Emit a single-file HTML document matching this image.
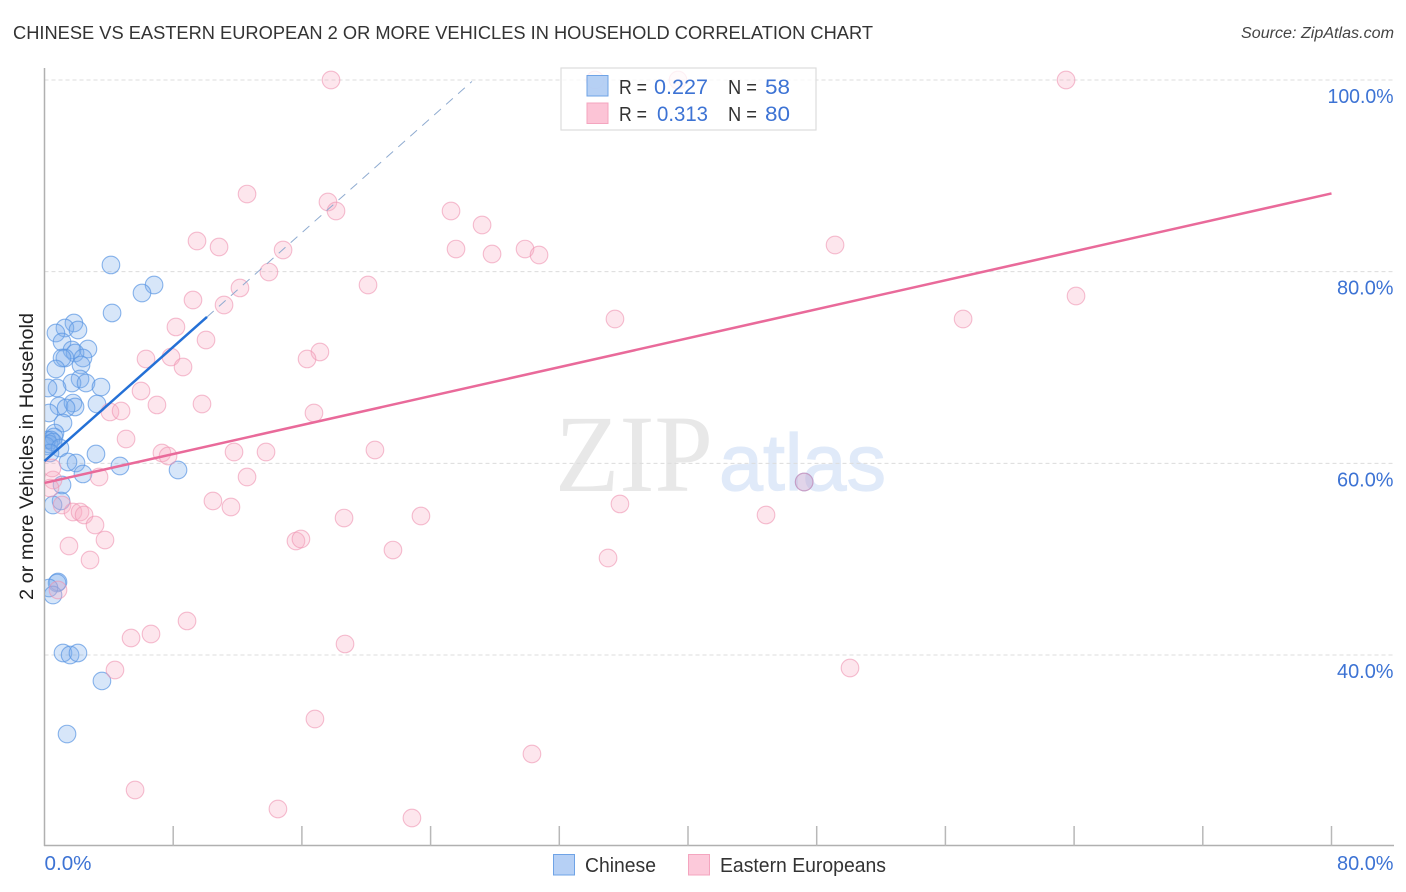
<!DOCTYPE html>
<html lang="en">
<head>
<meta charset="utf-8">
<title>Chinese vs Eastern European 2 or More Vehicles in Household Correlation Chart</title>
<style>
html,body{margin:0;padding:0;background:#fff;}
svg{display:block;font-family:"Liberation Sans",sans-serif;}
</style>
</head>
<body>
<svg id="chart" width="1406" height="892" viewBox="0 0 1406 892" xmlns="http://www.w3.org/2000/svg">
  <defs>
    <clipPath id="plot-clip"><rect x="45" y="60" width="1350" height="786"></rect></clipPath>
  </defs>
  <rect x="0" y="0" width="1406" height="892" fill="#ffffff"></rect>
  <text x="13" y="39" font-size="18.5" fill="#333333" textLength="860" lengthAdjust="spacingAndGlyphs">CHINESE VS EASTERN EUROPEAN 2 OR MORE VEHICLES IN HOUSEHOLD CORRELATION CHART</text>
  <text x="1241" y="38" font-size="15.5" font-style="italic" fill="#444444" textLength="153" lengthAdjust="spacingAndGlyphs">Source: ZipAtlas.com</text>

  <g>
    <text x="555" y="491" font-family="'Liberation Serif',serif" font-size="110" fill="#e8e8e8" textLength="158" lengthAdjust="spacingAndGlyphs">ZIP</text>
    <text x="719" y="490" font-size="80" fill="#e0eaf9" stroke="#e0eaf9" stroke-width="1.2" textLength="167" lengthAdjust="spacingAndGlyphs">atlas</text>
  </g>

  <g id="grid"></g>
  <g id="axes"></g>
  <g id="points" clip-path="url(#plot-clip)"></g>
  <g id="trends"></g>
  <g id="ticklabels"></g>

  <text transform="translate(33,456.5) rotate(-90)" font-size="19" fill="#222222" text-anchor="middle" textLength="287" lengthAdjust="spacingAndGlyphs">2 or more Vehicles in Household</text>

  <g>
    <rect x="561" y="68" width="255" height="62" fill="#ffffff" fill-opacity="0.78" stroke="#dddddd" stroke-width="1.2"></rect>
    <rect x="587" y="75.5" width="21" height="20.5" fill="#a9c8f2" fill-opacity="0.85" stroke="#6fa3e6" stroke-width="1"></rect>
    <rect x="587" y="103" width="21" height="20.5" fill="#fcc4d6" stroke="#f4a5bf" stroke-width="1"></rect>
    <g font-size="20" fill="#333333">
      <text x="619" y="94" textLength="28" lengthAdjust="spacingAndGlyphs">R =</text>
      <text x="728" y="94" textLength="29" lengthAdjust="spacingAndGlyphs">N =</text>
      <text x="619" y="121" textLength="28" lengthAdjust="spacingAndGlyphs">R =</text>
      <text x="728" y="121" textLength="29" lengthAdjust="spacingAndGlyphs">N =</text>
    </g>
    <g font-size="21" fill="#3d73d4">
      <text x="654" y="94" textLength="54" lengthAdjust="spacingAndGlyphs">0.227</text>
      <text x="765" y="94" textLength="25" lengthAdjust="spacingAndGlyphs">58</text>
      <text x="657" y="121" textLength="51" lengthAdjust="spacingAndGlyphs">0.313</text>
      <text x="765" y="121" textLength="25" lengthAdjust="spacingAndGlyphs">80</text>
    </g>
  </g>

  <g>
    <rect x="553.5" y="854.5" width="21" height="20.5" fill="#b6d0f5" stroke="#6fa3e6" stroke-width="1"></rect>
    <text x="585" y="872" font-size="20" fill="#333333" textLength="71" lengthAdjust="spacingAndGlyphs">Chinese</text>
    <rect x="688.5" y="854.5" width="21" height="20.5" fill="#fcc9da" stroke="#f4a5bf" stroke-width="1"></rect>
    <text x="720" y="872" font-size="20" fill="#333333" textLength="166" lengthAdjust="spacingAndGlyphs">Eastern Europeans</text>
  </g>
</svg>
<script>
const chineseX = [4.13,6.81,6.06,4.20,1.83,1.27,2.08,0.71,1.09,2.70,1.71,1.90,1.27,1.09,2.39,2.27,0.71,2.21,1.71,2.58,3.51,0.78,0.22,0.90,1.77,1.90,1.34,3.26,0.28,1.15,0.65,0.59,0.16,0.40,0.28,0.09,0.53,0.96,0.34,47.22,3.20,1.96,1.46,2.39,4.69,8.30,1.09,1.03,0.53,0.84,0.78,0.28,0.53,1.15,1.59,2.08,3.57,1.40];
const chineseY = [80.70,78.61,77.77,75.69,74.64,74.12,73.91,73.60,72.66,71.93,71.83,71.51,70.99,70.99,70.99,70.26,69.84,68.80,68.38,68.38,67.96,67.86,67.86,65.98,66.29,65.88,65.77,66.19,65.25,64.21,63.16,62.75,62.43,62.43,62.02,61.81,62.22,61.60,61.08,58.05,60.97,60.03,60.14,58.89,59.72,59.30,57.74,56.07,55.65,47.62,47.51,46.99,46.26,40.21,40.00,40.21,37.29,31.75];
const easternX = [17.81,63.50,39.38,34.22,12.59,17.62,18.12,25.27,27.20,9.48,10.85,14.83,25.58,27.82,29.87,30.74,49.14,13.95,20.11,12.15,64.12,9.23,11.16,35.46,57.10,8.17,10.04,17.12,16.32,6.31,7.86,8.61,6.00,9.79,6.99,4.07,4.76,16.75,5.07,20.54,7.30,7.68,11.78,13.77,12.59,3.39,0.53,0.34,10.47,11.59,35.77,1.09,1.77,2.21,2.46,3.14,18.62,23.40,44.85,15.63,15.94,3.76,1.52,21.66,35.03,2.83,0.84,8.86,6.62,5.38,18.68,4.38,50.07,16.81,30.30,5.63,14.51,22.84,47.22,0.47];
const easternY = [100,100,100,100,88.10,87.27,86.33,86.33,84.87,83.20,82.57,82.26,82.36,81.84,82.36,81.74,82.78,79.96,78.61,78.30,77.46,77.04,76.52,75.06,75.06,74.23,72.87,71.62,70.89,70.89,71.09,70.05,67.55,66.19,66.09,65.36,65.46,65.25,62.54,61.39,61.08,60.76,61.18,61.18,58.57,58.57,58.26,57.42,56.07,55.44,55.76,55.65,54.92,54.92,54.61,53.56,54.29,54.50,54.61,51.89,52.10,52.00,51.37,50.95,50.12,49.91,46.78,43.55,42.19,41.77,41.15,38.43,38.64,33.32,29.67,25.91,23.93,22.99,58.05,59.51];
const chineseTrendX = [0,10.1];
const chineseTrendY = [60.24,75.27];
const chineseTrendExtX = [10.1,26.57];
const chineseTrendExtY = [75.27,99.85];
const easternTrendX = [0,80];
const easternTrendY = [57.95,88.16];
const yTicks = [100,80,60,40];
const yTickLabels = ["100.0%","80.0%","60.0%","40.0%"];
const xTicks = [8,16,24,32,40,48,56,64,72,80];
const xEndTicks = [0,80];
const xEndLabels = ["0.0%","80.0%"];

const NS = "http://www.w3.org/2000/svg";
function xScale(v){ return 44.5 + v * 16.0875; }
function yScale(v){ return 80 + (100 - v) * 9.583; }
function make(tag, attrs, parent){
  const el = document.createElementNS(NS, tag);
  for (const k in attrs) el.setAttribute(k, attrs[k]);
  parent.appendChild(el);
  return el;
}
const grid = document.getElementById("grid");
const axes = document.getElementById("axes");
const points = document.getElementById("points");
const trends = document.getElementById("trends");
const labels = document.getElementById("ticklabels");

yTicks.forEach(function(t, i){
  const line = make("line", {x1:44.5, x2:1394, y1:yScale(t), y2:yScale(t), stroke:"#dcdcdc", "stroke-width":1, "stroke-dasharray":"4 3"}, grid);
  
  
  const w = yTickLabels[i].length * 9.5 + 9;
  const label = make("text", {x:1393.5 - w, y:yScale(t) + 23, "font-size":20, fill:"#3d73d4", textLength:w, lengthAdjust:"spacingAndGlyphs"}, labels);
  label.textContent = yTickLabels[i];
  
  
});

const yAxis = make("line", {x1:44.5, x2:44.5, y1:68, y2:846, stroke:"#b0b0b0", "stroke-width":1.5}, axes);


const xAxis = make("line", {x1:44, x2:1394, y1:845.5, y2:845.5, stroke:"#b0b0b0", "stroke-width":1.5}, axes);


xTicks.forEach(function(t){
  const tick = make("line", {x1:xScale(t), x2:xScale(t), y1:826, y2:846, stroke:"#b8b8b8", "stroke-width":1.5}, axes);
  
  
});
xEndTicks.forEach(function(t, i){
  const w = xEndLabels[i].length * 9.5 + 9;
  const label = make("text", {x: i === 0 ? xScale(t) : 1393.5 - w, y:870, "font-size":20, fill:"#3d73d4", textLength:w, lengthAdjust:"spacingAndGlyphs"}, labels);
  label.textContent = xEndLabels[i];
  
  
});

chineseX.forEach(function(v, i){
  const c = make("circle", {cx:xScale(v), cy:yScale(chineseY[i]), r:8.8, fill:"#7aabec", "fill-opacity":0.3, stroke:"#5a96e2", "stroke-opacity":0.7, "stroke-width":1.1}, points);
  
  
});
easternX.forEach(function(v, i){
  const c = make("circle", {cx:xScale(v), cy:yScale(easternY[i]), r:8.8, fill:"#f7abc4", "fill-opacity":0.3, stroke:"#ef93b1", "stroke-opacity":0.6, "stroke-width":1.1}, points);
  
  
});

const extLine = make("line", {x1:xScale(chineseTrendExtX[0]), y1:yScale(chineseTrendExtY[0]), x2:xScale(chineseTrendExtX[1]), y2:yScale(chineseTrendExtY[1]), stroke:"#8fabd0", "stroke-width":1, "stroke-dasharray":"9 7"}, trends);


const blueLine = make("line", {x1:xScale(chineseTrendX[0]), y1:yScale(chineseTrendY[0]), x2:xScale(chineseTrendX[1]), y2:yScale(chineseTrendY[1]), stroke:"#2470d6", "stroke-width":2.5}, trends);


const pinkLine = make("line", {x1:xScale(easternTrendX[0]), y1:yScale(easternTrendY[0]), x2:xScale(easternTrendX[1]), y2:yScale(easternTrendY[1]), stroke:"#e96a9a", "stroke-width":2.5}, trends);


</script>
</body>
</html>
